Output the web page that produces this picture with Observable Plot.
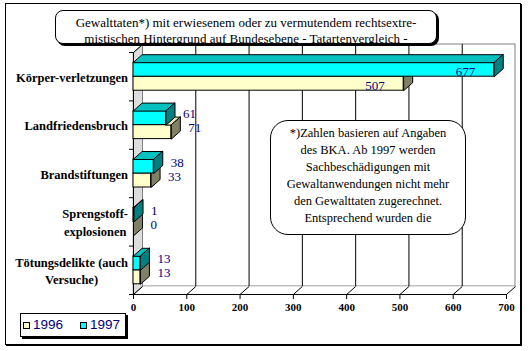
<!DOCTYPE html>
<html><head><meta charset="utf-8">
<script src="https://cdn.jsdelivr.net/npm/d3@7"></script>
<script src="https://cdn.jsdelivr.net/npm/@observablehq/plot@0.6"></script>
<style>
body{margin:0;background:#fff;}
#wrap{position:relative;width:530px;height:351px;overflow:hidden;background:#fff;}
#wrap svg{position:absolute;left:0;top:0;}
.frame{position:absolute;left:5px;top:3px;width:516px;height:342px;box-sizing:border-box;border:1px solid #000;box-shadow:1px 1px 0 #000;}
.title{position:absolute;left:55px;top:10px;width:382px;height:34px;box-sizing:border-box;border:1px solid #000;border-radius:8px;box-shadow:2px 2px 0 #000;background:#fff;overflow:hidden;font-family:"Liberation Serif",serif;font-size:13px;line-height:16px;text-align:center;color:#000;padding-top:4px;}
.note{position:absolute;left:270px;top:120px;width:196px;height:115px;box-sizing:border-box;border:1px solid #000;border-radius:18px;background:#fff;overflow:hidden;font-family:"Liberation Serif",serif;font-size:12.5px;line-height:17px;text-align:center;color:#000;padding-top:4px;}
.legend{position:absolute;left:20px;top:313px;width:106px;height:24px;box-sizing:border-box;border:1px solid #000;box-shadow:2px 2px 0 #000;background:#fff;font-family:"Liberation Sans",Arial,sans-serif;font-size:13.5px;color:#000080;}
.legend .sw{position:absolute;top:8px;width:7px;height:7px;border:1px solid #000;box-sizing:border-box;}
.legend .lb{position:absolute;top:3px;line-height:15px;}
#wrap svg text{font-family:"Liberation Serif","Times New Roman",serif;}
g[aria-label="tick labels"] text{letter-spacing:-0.6px;}
g[aria-label="category labels"] text{letter-spacing:-0.3px;}
</style>
</head><body>
<div id="wrap"></div>
<script>
// ---- data ----
const categories = ["Körper-verletzungen", "Landfriedensbruch", "Brandstiftungen", "Sprengstoff-\nexplosionen", "Tötungsdelikte (auch\nVersuche)"];
const values1996 = [507, 71, 33, 0, 13];
const values1997 = [677, 61, 38, 1, 13];
const seriesNames = ["1996", "1997"];
const xTicks = [0, 100, 200, 300, 400, 500, 600, 700];
const titleLines = ["Gewalttaten*) mit erwiesenem oder zu vermutendem rechtsextre-", "mistischen Hintergrund auf Bundesebene - Tatartenvergleich -"];
const noteLines = ["*)Zahlen basieren auf Angaben", "des BKA. Ab 1997 werden", "Sachbeschädigungen mit", "Gewaltanwendungen nicht mehr", "den Gewalttaten zugerechnet.", "Entsprechend wurden die"];

// ---- layout ----
const W = 530, H = 351;
const X0 = 133, X1 = 506, Y0 = 52, Y1 = 294;
const XMAX = 700, N = categories.length;
const kx = (X1 - X0) / XMAX, ky = (Y1 - Y0) / N;
const DX = 9, DY = -8;               // 3D depth in px
const dxu = DX / kx, dyu = DY / ky;  // depth in data units
const BAR = 14 / ky;                 // bar thickness in data units
const CAT_FONT = "bold 12.5px 'Liberation Serif'";
const CAT_GAP = 5.5, CAT_LINE = 17.5;

const colors = {
  "1996": {front: "#FFFFCC", top: "#E6E6B8", side: "#808066"},
  "1997": {front: "#00FFFF", top: "#00C0C0", side: "#008080"}
};

function barsFor(series) {
  return categories.map((c, i) => {
    const mid = i + 0.5;
    if (series === "1996") return {series, i, v: values1996[i], y1: mid, y2: mid + BAR, start: Math.min(values1996[i], values1997[i])};
    return {series, i, v: values1997[i], y1: mid - BAR, y2: mid, start: 0};
  });
}

function faces(bars, kind) {
  const pts = [];
  bars.forEach((b, k) => {
    const id = kind + k;
    if (kind === "top") {
      if (b.v - b.start <= 0) return;
      pts.push({id, x: b.start, y: b.y1}, {id, x: b.v, y: b.y1}, {id, x: b.v + dxu, y: b.y1 + dyu}, {id, x: b.start + dxu, y: b.y1 + dyu});
    } else {
      pts.push({id, x: b.v, y: b.y1}, {id, x: b.v, y: b.y2}, {id, x: b.v + dxu, y: b.y2 + dyu}, {id, x: b.v + dxu, y: b.y1 + dyu});
    }
  });
  return pts;
}

function barMarks(series) {
  const bars = barsFor(series);
  const col = colors[series];
  return [
    Plot.rect(bars, {x1: 0, x2: "v", y1: "y1", y2: "y2", fill: col.front, stroke: "#000", strokeWidth: 1}),
    Plot.line(faces(bars, "top"), {x: "x", y: "y", z: "id", fill: col.top, stroke: "#000", strokeWidth: 1, curve: "linear-closed"}),
    Plot.line(faces(bars, "side"), {x: "x", y: "y", z: "id", fill: col.side, stroke: "#000", strokeWidth: 1, curve: "linear-closed"})
  ];
}

// category label lines: each block right-aligned, lines centred within the block
const ctx = document.createElement("canvas").getContext("2d");
ctx.font = CAT_FONT;
const catLines = [];
categories.forEach((c, i) => {
  const lines = c.split("\n");
  const w = Math.max(...lines.map(l => ctx.measureText(l).width));
  lines.forEach((l, j) => {
    catLines.push({text: l, x: -(CAT_GAP + w / 2) / kx, y: i + 0.5 + (j - (lines.length - 1) / 2) * CAT_LINE / ky});
  });
});

const wallPts = [{x: 0, y: 0}, {x: dxu, y: dyu}, {x: dxu, y: N + dyu}, {x: 0, y: N}];
const floorPts = [{x: 0, y: N}, {x: XMAX, y: N}, {x: XMAX + dxu, y: N + dyu}, {x: dxu, y: N + dyu}];

const allBars = [...barsFor("1996"), ...barsFor("1997")];

const chart = Plot.plot({
  width: W, height: H,
  x: {domain: [0, XMAX], range: [X0, X1], axis: null},
  y: {domain: [0, N], range: [Y0, Y1], axis: null},
  style: {background: "transparent", overflow: "visible"},
  marks: [
    // back wall
    Plot.rect([0], {x1: 0, x2: XMAX, y1: 0, y2: N, dx: DX, dy: DY, fill: "#fff", stroke: "#808080", strokeWidth: 1}),
    // floor
    Plot.line(floorPts, {x: "x", y: "y", fill: "#fff", stroke: "none", curve: "linear-closed"}),
    // left wall
    Plot.line(wallPts, {x: "x", y: "y", fill: "#DDDDDD", stroke: "#808080", strokeWidth: 1, curve: "linear-closed"}),
    // gridlines on back wall
    Plot.ruleX(xTicks.slice(1, -1), {x: d => d, y1: 0, y2: N, dx: DX, dy: DY, stroke: "#000", strokeWidth: 1}),
    // floor diagonals
    Plot.link(xTicks, {x1: d => d, y1: N, x2: d => d + dxu, y2: N + dyu, stroke: "#000", strokeWidth: 1}),
    // wall top edge
    Plot.link([0], {x1: 0, y1: 0, x2: dxu, y2: dyu, stroke: "#000", strokeWidth: 1}),
    // axes
    Plot.ruleY([N], {x1: 0, x2: XMAX, stroke: "#000", strokeWidth: 1}),
    Plot.ruleX([0], {x: 0, y1: 0, y2: N, stroke: "#000", strokeWidth: 1}),
    Plot.ruleY(d3.range(N + 1), {y: d => d, x1: -4 / kx, x2: 0, stroke: "#000", strokeWidth: 1}),
    Plot.ruleX(xTicks, {x: d => d, y1: N, y2: N + 5 / ky, stroke: "#000", strokeWidth: 1}),
    Plot.text(xTicks, {x: d => d, y: N, dy: 13, text: d => String(d), fontWeight: "bold", fontSize: 11, fill: "#000", ariaLabel: "tick labels"}),
    Plot.text(catLines, {x: "x", y: "y", dy: 1, text: "text", textAnchor: "middle", fontWeight: "bold", fontSize: 12.5, fill: "#000", ariaLabel: "category labels"}),
    // bars
    ...barMarks("1996"),
    ...barMarks("1997"),
    // value labels
    Plot.text(allBars.filter(d => d.v <= 300), {x: "v", y: d => (d.y1 + d.y2) / 2, dx: 17, dy: -4, text: d => String(d.v), textAnchor: "start", fontSize: 13, fill: "#000080"}),
    Plot.text(allBars.filter(d => d.v > 300), {x: "v", y: d => (d.y1 + d.y2) / 2, dx: -19, dy: 2, text: d => String(d.v), textAnchor: "end", fontSize: 13, fill: "#000080"})
  ]
});

const wrap = document.getElementById("wrap");
const frame = document.createElement("div");
frame.className = "frame";
wrap.appendChild(frame);
wrap.appendChild(chart);

const title = document.createElement("div");
title.className = "title";
title.innerHTML = titleLines.join("<br>");
wrap.appendChild(title);

const note = document.createElement("div");
note.className = "note";
note.innerHTML = noteLines.join("<br>");
wrap.appendChild(note);

const legend = document.createElement("div");
legend.className = "legend";
const legX = [{sw: 2, lb: 12}, {sw: 59, lb: 69}];
seriesNames.forEach((s, k) => {
  const sw = document.createElement("div");
  sw.className = "sw";
  sw.style.left = legX[k].sw + "px";
  sw.style.background = colors[s].front;
  legend.appendChild(sw);
  const lb = document.createElement("div");
  lb.className = "lb";
  lb.style.left = legX[k].lb + "px";
  lb.textContent = s;
  legend.appendChild(lb);
});
wrap.appendChild(legend);
</script>
</body></html>
